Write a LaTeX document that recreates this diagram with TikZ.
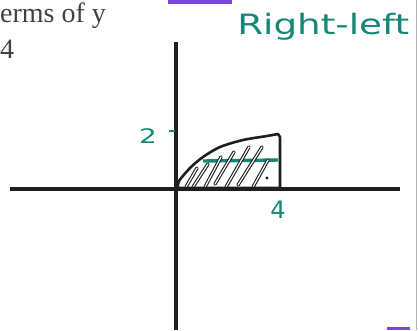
\documentclass[tikz,border=0pt]{standalone}
\usepackage{fontspec}
\newfontfamily\printfont{Liberation Serif}
\newfontfamily\handfont{DejaVu Sans}
\definecolor{ink}{RGB}{30,30,30}
\definecolor{tealink}{RGB}{20,135,118}
\definecolor{purpleink}{RGB}{125,70,215}
\begin{document}
\begin{tikzpicture}[x=1pt,y=-1pt,
  axis/.style={draw=ink,line width=3.2pt},
  outline/.style={draw=ink,line width=2.6pt,line join=round,line cap=round},
  hatch/.style={draw=ink,line width=1.1pt,double=white,double distance=1.2pt,line cap=round},
  handlabel/.style={text=tealink,inner sep=0pt},
  printed/.style={text=ink!85,font=\printfont\fontsize{28}{30}\selectfont,inner sep=0pt,anchor=base west}]
\fill[white] (0,0) rectangle (418,330);
\useasboundingbox (0,0) rectangle (418,330);
% printed text fragments
\node[printed] (t1) at (0,22) {erms of y};
\node[printed] (t2) at (0,58) {4};
% purple marks and page edge
\fill[purpleink] (168,0) rectangle (232,4);
\fill[purpleink] (387,327) rectangle (410,330);
\draw[gray!60,line width=1pt] (416,0) -- (416,330);
% handwritten title
\node[handlabel,anchor=base west,font=\handfont\fontsize{28}{30}\selectfont,xscale=1.33] (rl) at (237,34) {Right-left};
% axes
\coordinate (ytop) at (176,42);
\coordinate (ybot) at (176,330);
\coordinate (xl) at (10,189);
\coordinate (xr) at (400,189);
\draw[axis] (ytop) -- (ybot);
\draw[axis] (xl) -- (xr);
% tick and labels
\coordinate (tk1) at (169,131);
\coordinate (tk2) at (175,131);
\draw[tealink,line width=2pt] (tk1) -- (tk2);
\node[handlabel,font=\handfont\fontsize{20}{22}\selectfont,xscale=1.4] (two) at (148,136) {2};
\node[handlabel,font=\handfont\fontsize{24}{26}\selectfont] (four) at (278,210) {4};
% teal strip
\coordinate (s1) at (203,161);
\coordinate (s2) at (278,160);
\draw[tealink,line width=3.4pt] (s1) -- (s2);
% hatching
\draw[hatch] (186,187) -- (197,168);
\draw[hatch] (193,187) -- (208,164);
\draw[hatch] (205,187) -- (221,157);
\draw[hatch] (215,184) -- (234,152);
\draw[hatch] (226,187) -- (249,147);
\draw[hatch] (238,185) -- (262,147);
\draw[hatch] (253,187) -- (268,160);
\fill[ink] (267,178) circle (1.6pt);
% region outline
\draw[outline] plot[smooth] coordinates {(178,187) (179,181) (190,168) (203,157) (220,147) (243,140) (267,136) (278,134)} -- (280,137) -- (280,188) -- (178,188);
\end{tikzpicture}
\end{document}
